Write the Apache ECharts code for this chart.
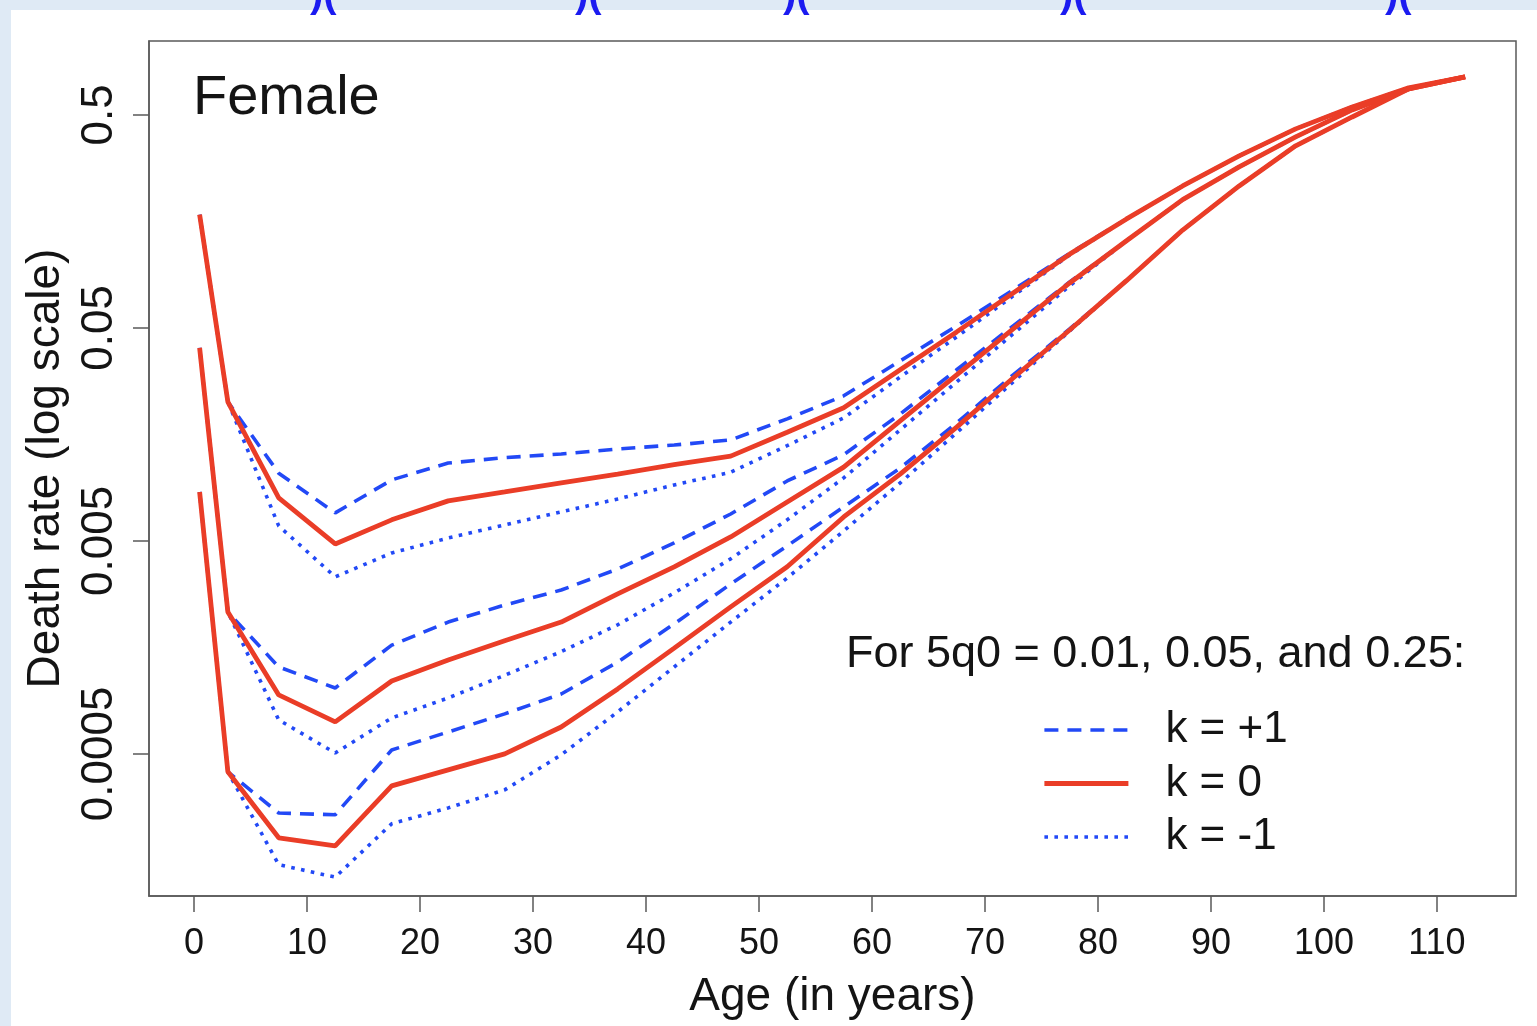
<!DOCTYPE html>
<html>
<head>
<meta charset="utf-8">
<script src="https://cdn.jsdelivr.net/npm/echarts@6/dist/echarts.min.js"></script>
<style>
  html, body { margin: 0; padding: 0; background: #dfeaf5; }
  #paper { position: absolute; left: 11px; top: 10px; width: 1526px; height: 1016px; background: #fff; }
  #chart { position: absolute; left: 0; top: 0; width: 1537px; height: 1026px; }
</style>
</head>
<body>
<div id="paper"></div>
<div id="chart"></div>
<script>
// ages at which the model schedules are plotted
var ages = [0.5, 3, 7.5, 12.5, 17.5, 22.5, 27.5, 32.5, 37.5, 42.5, 47.5, 52.5, 57.5,
  62.5, 67.5, 72.5, 77.5, 82.5, 87.5, 92.5, 97.5, 102.5, 107.5, 112.5];

// 5q0 = 0.25
var q25Plus = [0.170, 0.0225, 0.0104, 0.00677, 0.00967, 0.0116, 0.0123, 0.0128, 0.0135, 0.0141, 0.0149, 0.0187,
  0.0240, 0.0350, 0.0511, 0.0754, 0.112, 0.162, 0.232, 0.321, 0.430, 0.545, 0.670, 0.754];
var q25Zero = [0.170, 0.0225, 0.00796, 0.00484, 0.00628, 0.00771, 0.00849, 0.00936, 0.0103, 0.0114, 0.0125, 0.0162,
  0.0211, 0.0318, 0.0479, 0.0730, 0.111, 0.162, 0.232, 0.321, 0.430, 0.545, 0.670, 0.754];
var q25Minus = [0.170, 0.0225, 0.00588, 0.00339, 0.00439, 0.00516, 0.00594, 0.00684, 0.00787, 0.00916, 0.0105, 0.0140,
  0.0189, 0.0294, 0.0454, 0.0707, 0.110, 0.162, 0.232, 0.321, 0.430, 0.545, 0.670, 0.754];

// 5q0 = 0.05
var q05Plus = [0.0403, 0.00232, 0.00128, 0.00102, 0.00162, 0.00208, 0.00250, 0.00294, 0.00369, 0.00489, 0.00669, 0.00956,
  0.0127, 0.0197, 0.0318, 0.0511, 0.0822, 0.128, 0.200, 0.285, 0.394, 0.528, 0.662, 0.754];
var q05Zero = [0.0403, 0.00232, 0.000946, 0.000707, 0.00110, 0.00138, 0.00170, 0.00208, 0.00282, 0.00378, 0.00522, 0.00762,
  0.0111, 0.0183, 0.0301, 0.0495, 0.0813, 0.128, 0.200, 0.285, 0.394, 0.528, 0.662, 0.754];
var q05Minus = [0.0403, 0.00232, 0.000722, 0.000505, 0.000738, 0.000916, 0.00117, 0.00151, 0.00202, 0.00285, 0.00412, 0.00628,
  0.00988, 0.0166, 0.0279, 0.0469, 0.0788, 0.128, 0.200, 0.285, 0.394, 0.528, 0.662, 0.754];

// 5q0 = 0.01
var q01Plus = [0.00849, 0.000412, 0.000264, 0.000259, 0.000522, 0.000634, 0.000771, 0.000956, 0.00135, 0.00204, 0.00314, 0.00474,
  0.00722, 0.0110, 0.0179, 0.0301, 0.0495, 0.0831, 0.144, 0.232, 0.358, 0.489, 0.662, 0.754];
var q01Zero = [0.00849, 0.000412, 0.000202, 0.000185, 0.000354, 0.000421, 0.000500, 0.000669, 0.00101, 0.00157, 0.00245, 0.00378,
  0.00648, 0.0103, 0.0171, 0.0291, 0.0489, 0.0831, 0.144, 0.232, 0.358, 0.489, 0.662, 0.754];
var q01Minus = [0.00849, 0.000412, 0.000151, 0.000132, 0.000235, 0.000279, 0.000339, 0.000495, 0.000788, 0.00128, 0.00208, 0.00335,
  0.00557, 0.00936, 0.0161, 0.0279, 0.0484, 0.0831, 0.144, 0.232, 0.358, 0.489, 0.662, 0.754];

var xTicks = [0, 10, 20, 30, 40, 50, 60, 70, 80, 90, 100, 110];
var yTickLabels = ['0.0005', '0.005', '0.05', '0.5'];
var kNames = ['k = +1', 'k = 0', 'k = -1'];

var FONT = 'Liberation Sans, Arial, Helvetica, sans-serif';
var RED = '#ea3d27';
var BLUE = '#2249f6';
var INK = '#141414';
var BOX = '#5a5a5a';

var yTickVals = yTickLabels.map(function (s) { return Math.log10(Number(s)); });

function toPoints(vals) {
  return ages.map(function (a, i) { return [a, Math.log10(vals[i])]; });
}

var groups = [
  [q25Plus, q25Zero, q25Minus],
  [q05Plus, q05Zero, q05Minus],
  [q01Plus, q01Zero, q01Minus]
];

var styles = [
  { color: BLUE, width: 3.6, type: [14, 9] },
  { color: RED, width: 4.8, type: 'solid' },
  { color: BLUE, width: 3.6, type: [3.6, 6.4] }
];

var series = [];
// blue curves first so the red ones sit on top
[0, 2, 1].forEach(function (k) {
  groups.forEach(function (g) {
    series.push({
      name: kNames[k],
      type: 'line',
      data: toPoints(g[k]),
      symbol: 'none',
      silent: true,
      itemStyle: { color: styles[k].color },
      lineStyle: styles[k]
    });
  });
});

var myChart = echarts.init(document.getElementById('chart'));
var option = {
  animation: false,
  textStyle: { fontFamily: FONT },
  title: [
    {
      text: 'Female', left: 193, top: 71, padding: 0,
      textStyle: { fontSize: 56, fontWeight: 'normal', color: INK, fontFamily: FONT }
    },
    {
      text: 'For 5q0 = 0.01, 0.05, and 0.25:', left: 846, top: 632, padding: 0,
      textStyle: { fontSize: 45, fontWeight: 'normal', color: INK, fontFamily: FONT }
    }
  ],
  graphic: [310, 575, 783, 1060, 1385].map(function (x) {
    return {
      type: 'text', x: x, y: 16, silent: true,
      style: { text: ')(', font: 'bold 40px ' + FONT, fill: '#1b1bf0', verticalAlign: 'bottom' }
    };
  }),
  legend: {
    orient: 'vertical', left: 1042, top: 708, padding: 0,
    itemWidth: 84, itemHeight: 44, itemGap: 9.5,
    selectedMode: false,
    data: kNames.map(function (n, k) {
      return { name: n, lineStyle: { width: styles[k].width, type: styles[k].type, color: styles[k].color } };
    }),
    itemStyle: { opacity: 0 },
    textStyle: { fontSize: 44, lineHeight: 44, color: INK, fontFamily: FONT, padding: [0, 0, 0, 32] }
  },
  grid: {
    left: 149, top: 41, right: 21, bottom: 130,
    show: true, borderColor: BOX, borderWidth: 1.5, backgroundColor: 'transparent'
  },
  xAxis: {
    type: 'value', min: -3.98, max: 117,
    name: 'Age (in years)', nameLocation: 'middle', nameGap: 78,
    nameTextStyle: { fontSize: 46, color: INK, fontFamily: FONT },
    axisLine: { show: true, onZero: false, lineStyle: { color: BOX, width: 1.5 } },
    axisTick: { show: true, length: 16, customValues: xTicks, lineStyle: { color: BOX, width: 1.5 } },
    axisLabel: { customValues: xTicks, fontSize: 36, margin: 30, color: INK, fontFamily: FONT },
    splitLine: { show: false }
  },
  yAxis: {
    type: 'value', min: -3.968, max: 0.046,
    name: 'Death rate (log scale)', nameLocation: 'middle', nameGap: 80,
    nameTextStyle: { fontSize: 46, color: INK, fontFamily: FONT },
    axisLine: { show: true, onZero: false, lineStyle: { color: BOX, width: 1.5 } },
    axisTick: { show: true, length: 16, customValues: yTickVals, lineStyle: { color: BOX, width: 1.5 } },
    axisLabel: {
      customValues: yTickVals, rotate: 90, fontSize: 44, margin: 27, color: INK, fontFamily: FONT,
      formatter: function (v) {
        for (var i = 0; i < yTickVals.length; i++) {
          if (Math.abs(yTickVals[i] - v) < 1e-6) return yTickLabels[i];
        }
        return '';
      }
    },
    splitLine: { show: false }
  },
  series: series
};
myChart.setOption(option);
</script>
</body>
</html>
